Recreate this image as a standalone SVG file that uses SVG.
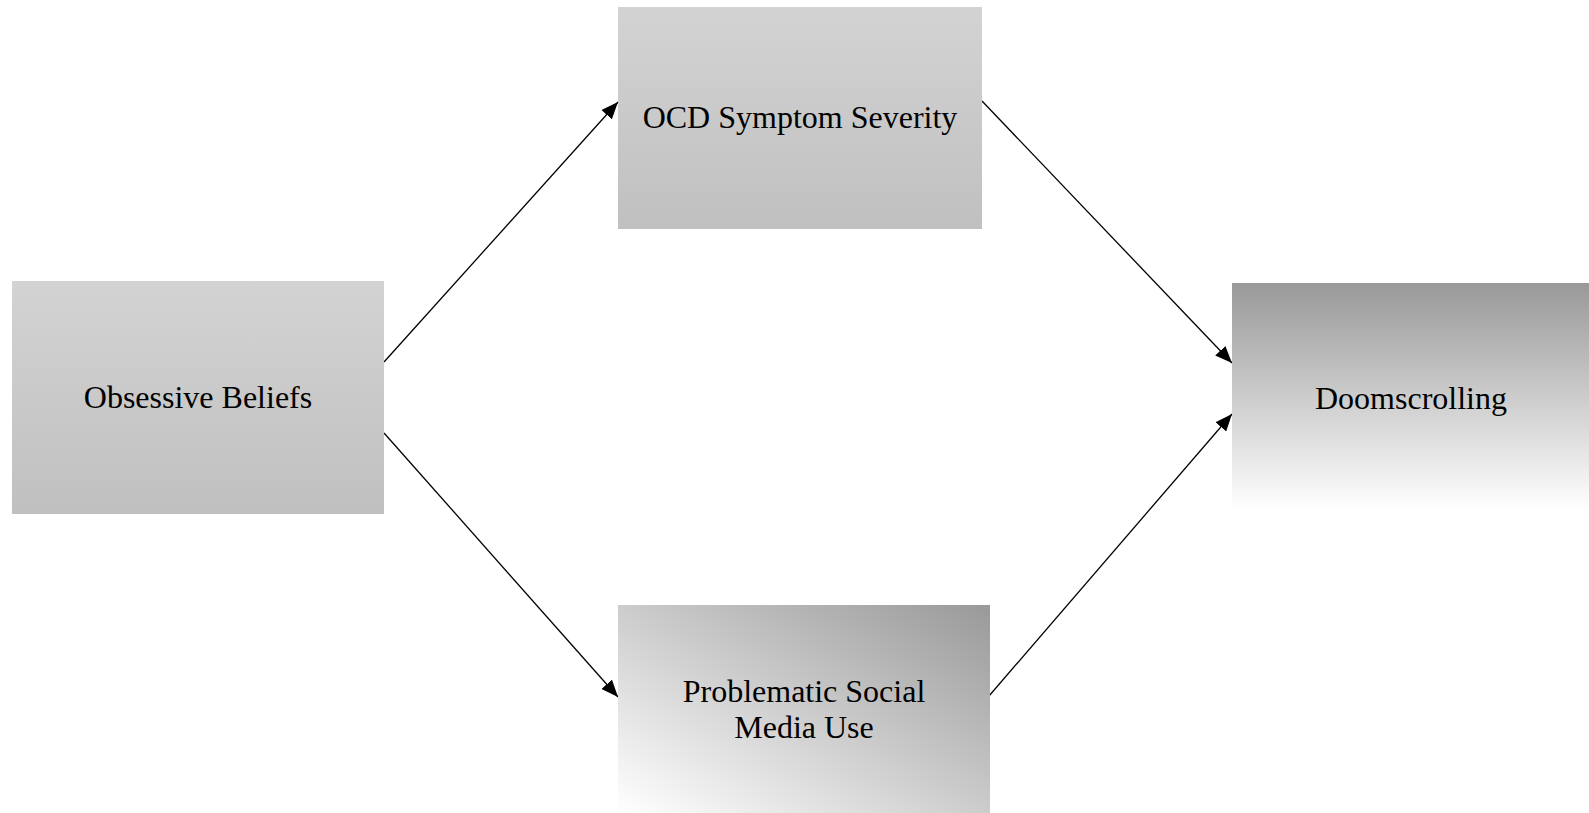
<svg xmlns="http://www.w3.org/2000/svg" width="1589" height="813" viewBox="0 0 1589 813">
<style>
text{font-family:"Liberation Serif","Times New Roman",serif;font-size:32px;fill:#000;text-anchor:middle}
.c{stroke:#000;stroke-width:1.3;fill:none;marker-end:url(#ah)}
</style>
<defs>
<linearGradient id="gv" x1="0" y1="0" x2="0" y2="1"><stop offset="0" stop-color="#d3d3d3"/><stop offset="1" stop-color="#c0c0c0"/></linearGradient>
<linearGradient id="gd" x1="0" y1="1" x2="1" y2="0"><stop offset="0" stop-color="#ffffff"/><stop offset="1" stop-color="#999999"/></linearGradient>
<linearGradient id="gt" x1="0" y1="0" x2="0" y2="1"><stop offset="0" stop-color="#999999"/><stop offset="1" stop-color="#ffffff"/></linearGradient>
<marker id="ah" markerUnits="userSpaceOnUse" markerWidth="18" markerHeight="14" refX="17" refY="7" orient="auto"><path d="M0,0 L17,7 L0,14 z" fill="#000"/></marker>
</defs>
<rect width="1589" height="813" fill="#fff"/>
<g id="connectors">
<line class="c" x1="384" y1="362" x2="618" y2="102"/>
<line class="c" x1="384" y1="433" x2="618" y2="697"/>
<line class="c" x1="982" y1="101" x2="1232" y2="363"/>
<line class="c" x1="989" y1="696" x2="1232" y2="414"/>
</g>
<g id="obsessive-beliefs">
<rect x="12" y="281" width="372" height="233" fill="url(#gv)"/>
<text x="198" y="408">Obsessive Beliefs</text>
</g>
<g id="ocd-severity">
<rect x="618" y="7" width="364" height="222" fill="url(#gv)"/>
<text x="800" y="128">OCD Symptom Severity</text>
</g>
<g id="psmu">
<rect x="618" y="605" width="372" height="208" fill="url(#gd)"/>
<text x="804" y="702">Problematic Social</text>
<text x="804" y="738">Media Use</text>
</g>
<g id="doomscrolling">
<rect x="1232" y="283" width="357" height="227" fill="url(#gt)"/>
<text x="1411" y="409">Doomscrolling</text>
</g>
</svg>
